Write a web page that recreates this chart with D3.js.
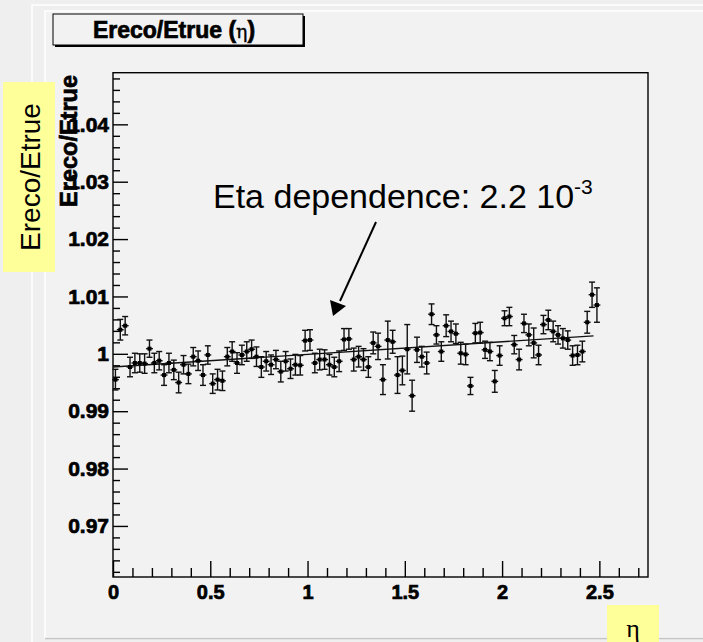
<!DOCTYPE html>
<html><head><meta charset="utf-8">
<script src="https://cdn.jsdelivr.net/npm/d3@7"></script>
<style>
html,body{margin:0;padding:0;background:#efefef;}
svg{display:block;font-family:"Liberation Sans",Arial,sans-serif;}
</style></head><body>
<svg id="chart" width="703" height="642"></svg>
<script>
// Histogram of Ereco/Etrue vs eta: 100 bins of width 0.025 between 0 and 2.5
const etaCenters = [
  0.0125,0.0375,0.0625,0.0875,0.1125,0.1375,0.1625,0.1875,0.2125,0.2375,
  0.2625,0.2875,0.3125,0.3375,0.3625,0.3875,0.4125,0.4375,0.4625,0.4875,
  0.5125,0.5375,0.5625,0.5875,0.6125,0.6375,0.6625,0.6875,0.7125,0.7375,
  0.7625,0.7875,0.8125,0.8375,0.8625,0.8875,0.9125,0.9375,0.9625,0.9875,
  1.0125,1.0375,1.0625,1.0875,1.1125,1.1375,1.1625,1.1875,1.2125,1.2375,
  1.2625,1.2875,1.3125,1.3375,1.3625,1.3875,1.4125,1.4375,1.4625,1.4875,
  1.5125,1.5375,1.5625,1.5875,1.6125,1.6375,1.6625,1.6875,1.7125,1.7375,
  1.7625,1.7875,1.8125,1.8375,1.8625,1.8875,1.9125,1.9375,1.9625,1.9875,
  2.0125,2.0375,2.0625,2.0875,2.1125,2.1375,2.1625,2.1875,2.2125,2.2375,
  2.2625,2.2875,2.3125,2.3375,2.3625,2.3875,2.4125,2.4375,2.4625,2.4875
];
const binHalfWidth = 0.0125;
const ratio = [
  0.9955,1.0042,1.0049,0.9977,0.9984,0.9984,0.9983,1.0009,0.9984,0.9988,
  0.9963,0.9984,0.9972,0.9950,0.9981,0.9965,0.9995,0.9988,0.9963,0.9998,
  0.9948,0.9955,0.9953,0.9995,1.0004,0.9984,0.9998,1.0004,1.0008,0.9995,
  0.9977,0.9987,0.9981,0.9990,0.9969,0.9987,0.9974,0.9981,0.9980,1.0023,
  1.0024,0.9984,0.9990,0.9990,0.9981,0.9977,0.9987,1.0025,1.0026,0.9990,
  0.9995,0.9990,0.9977,1.0019,1.0013,0.9955,1.0024,1.0021,0.9963,0.9971,
  1.0008,0.9927,1.0007,0.9995,0.9984,1.0069,1.0033,1.0004,1.0049,1.0039,
  1.0035,1.0001,0.9999,0.9944,1.0036,1.0037,1.0007,1.0004,0.9952,0.9997,
  1.0062,1.0065,1.0016,0.9990,1.0053,1.0033,1.0019,0.9998,1.0051,1.0059,
  1.0039,1.0033,1.0027,1.0024,0.9997,0.9998,1.0004,1.0055,1.0103,1.0085
];
const ratioErr = [
  0.0018,0.0018,0.0016,0.0017,0.0017,0.0016,0.0017,0.0015,0.0017,0.0016,
  0.0018,0.0017,0.0017,0.0018,0.0016,0.0017,0.0016,0.0017,0.0018,0.0016,
  0.0017,0.0018,0.0017,0.0016,0.0017,0.0018,0.0017,0.0017,0.0016,0.0017,
  0.0018,0.0017,0.0017,0.0016,0.0018,0.0017,0.0017,0.0018,0.0017,0.0018,
  0.0018,0.0017,0.0018,0.0017,0.0018,0.0017,0.0018,0.0019,0.0018,0.0020,
  0.0018,0.0019,0.0018,0.0019,0.0023,0.0026,0.0033,0.0020,0.0032,0.0025,
  0.0043,0.0027,0.0022,0.0018,0.0019,0.0018,0.0016,0.0017,0.0019,0.0018,
  0.0017,0.0019,0.0018,0.0015,0.0017,0.0018,0.0015,0.0016,0.0019,0.0017,
  0.0013,0.0016,0.0016,0.0018,0.0016,0.0019,0.0026,0.0017,0.0016,0.0017,
  0.0018,0.0016,0.0017,0.0016,0.0017,0.0017,0.0018,0.0019,0.0022,0.0030
];
// linear fit: Ereco/Etrue = p0 + p1 * eta
const fitP0 = 0.9977;
const fitP1 = 0.0022;
const fitRange = [0, 2.47];

const yMajor = [0.97, 0.98, 0.99, 1.00, 1.01, 1.02, 1.03, 1.04];
const yMajorLabels = ["0.97","0.98","0.99","1","1.01","1.02","1.03","1.04"];
const yMinor = [0.962,0.964,0.966,0.968,0.972,0.974,0.976,0.978,0.982,0.984,0.986,0.988,
  0.992,0.994,0.996,0.998,1.002,1.004,1.006,1.008,1.012,1.014,1.016,1.018,
  1.022,1.024,1.026,1.028,1.032,1.034,1.036,1.038,1.042,1.044,1.046,1.048];
const xMajor = [0, 0.5, 1, 1.5, 2, 2.5];
const xMajorLabels = ["0","0.5","1","1.5","2","2.5"];
const xMinor = [0.1,0.2,0.3,0.4,0.6,0.7,0.8,0.9,1.1,1.2,1.3,1.4,1.6,1.7,1.8,1.9,
  2.1,2.2,2.3,2.4,2.6,2.7];

const svg = d3.select("#chart");

// canvas / pad background with bevel highlights
svg.append("rect").attr("x",0).attr("y",0).attr("width",703).attr("height",642).attr("fill","#efefef");
svg.append("rect").attr("x",32).attr("y",5).attr("width",680).attr("height",640)
  .attr("fill","#efefef").attr("stroke","#ffffff").attr("stroke-width",1.5);
svg.append("rect").attr("x",45).attr("y",11).attr("width",680).attr("height",627)
  .attr("fill","#f2f2f2").attr("stroke","#ffffff").attr("stroke-width",1.5);
svg.append("line").attr("x1",45).attr("x2",703).attr("y1",638.5).attr("y2",638.5)
  .attr("stroke","#c4c4c4").attr("stroke-width",1.5);

const x = d3.scaleLinear().domain([0, 2.75]).range([113, 648]);
const y = d3.scaleLinear().domain([0.9611, 1.049]).range([577, 72.7]);

// frame
svg.append("rect").attr("x",x(0)).attr("y",y(1.049)).attr("width",x(2.75)-x(0))
  .attr("height",y(0.9611)-y(1.049)).attr("fill","none").attr("stroke","#000").attr("stroke-width",1.4);

const heavy = sel => sel.attr("font-weight","bold").attr("fill","#000")
  .attr("stroke","#000").attr("stroke-width",0.7)
  .attr("font-family","'Liberation Sans',Arial,sans-serif");

// y axis: ticks point into the frame
const yAxisMajor = d3.axisLeft(y).tickValues(yMajor)
  .tickFormat((d,i)=>yMajorLabels[i]).tickSize(-15).tickPadding(4);
const gy = svg.append("g").attr("transform",`translate(${x(0)},0)`).call(yAxisMajor);
gy.select(".domain").remove();
gy.selectAll("line").attr("stroke","#000").attr("stroke-width",1.4);
gy.selectAll("text").attr("font-size",21).call(heavy);
const gy2 = svg.append("g").attr("transform",`translate(${x(0)},0)`)
  .call(d3.axisLeft(y).tickValues(yMinor).tickFormat("").tickSize(-7));
gy2.select(".domain").remove();
gy2.selectAll("line").attr("stroke","#000").attr("stroke-width",1.4);

// x axis
const xAxisMajor = d3.axisBottom(x).tickValues(xMajor)
  .tickFormat((d,i)=>xMajorLabels[i]).tickSize(-16).tickPadding(8);
const gx = svg.append("g").attr("transform",`translate(0,${y(0.9611)})`).call(xAxisMajor);
gx.select(".domain").remove();
gx.selectAll("line").attr("stroke","#000").attr("stroke-width",1.4);
gx.selectAll("text").attr("font-size",20).call(heavy);
const gx2 = svg.append("g").attr("transform",`translate(0,${y(0.9611)})`)
  .call(d3.axisBottom(x).tickValues(xMinor).tickFormat("").tickSize(-9));
gx2.select(".domain").remove();
gx2.selectAll("line").attr("stroke","#000").attr("stroke-width",1.4);

// y axis title (drawn over the upper tick labels)
svg.append("text").attr("transform",`translate(77,75) rotate(-90)`)
  .attr("text-anchor","end").attr("font-size",23.5).call(heavy).text("Ereco/Etrue");

// fitted line
svg.append("line").attr("x1",x(fitRange[0])).attr("x2",x(fitRange[1]))
  .attr("y1",y(fitP0+fitP1*fitRange[0])).attr("y2",y(fitP0+fitP1*fitRange[1]))
  .attr("stroke","#111").attr("stroke-width",1.4);

// data points with error bars
const pts = etaCenters.map((e,i)=>({eta:e, v:ratio[i], err:ratioErr[i]}));
const gp = svg.append("g").attr("stroke","#111").attr("stroke-width",1.4);
pts.forEach(p=>{
  const cx = x(p.eta), cy = y(p.v), y1 = y(p.v+p.err), y2 = y(p.v-p.err);
  gp.append("line").attr("x1",cx).attr("x2",cx).attr("y1",y1).attr("y2",y2);
  gp.append("line").attr("x1",cx-3).attr("x2",cx+3).attr("y1",y1).attr("y2",y1);
  gp.append("line").attr("x1",cx-3).attr("x2",cx+3).attr("y1",y2).attr("y2",y2);
  gp.append("line").attr("x1",x(p.eta-binHalfWidth)-1).attr("x2",x(p.eta+binHalfWidth)+1).attr("y1",cy).attr("y2",cy);
  gp.append("rect").attr("x",cx-2).attr("y",cy-2).attr("width",4).attr("height",4).attr("fill","#000").attr("stroke","none");
});

// title box with shadow
svg.append("rect").attr("x",55).attr("y",16).attr("width",250).attr("height",31).attr("fill","#000");
svg.append("rect").attr("x",53).attr("y",14).attr("width",250).attr("height",31)
  .attr("fill","#f2f2f2").attr("stroke","#000").attr("stroke-width",1);
const tt = svg.append("text").attr("x",174).attr("y",38).attr("text-anchor","middle")
  .attr("font-size",23).call(heavy);
tt.append("tspan").text("Ereco/Etrue (");
tt.append("tspan").attr("font-weight","normal").attr("stroke-width",0.3)
  .attr("font-family","'DejaVu Serif',serif").attr("font-size",19).text("η");
tt.append("tspan").text(")");

// annotation with arrow
const ann = svg.append("text").attr("x",213).attr("y",208).attr("font-size",34).attr("fill","#000");
ann.append("tspan").text("Eta dependence: 2.2 10");
ann.append("tspan").attr("font-size",21).attr("dy",-14).text("-3");
svg.append("line").attr("x1",376).attr("y1",222).attr("x2",340).attr("y2",301)
  .attr("stroke","#000").attr("stroke-width",2);
svg.append("path").attr("d","M333,316 L330,300 L346,306 Z").attr("fill","#000");

// yellow axis-name boxes
svg.append("rect").attr("x",3).attr("y",82).attr("width",52).attr("height",190).attr("fill","#ffff99");
svg.append("text").attr("transform","translate(40,177) rotate(-90)").attr("text-anchor","middle")
  .attr("font-size",28).attr("fill","#000").text("Ereco/Etrue");
svg.append("rect").attr("x",607).attr("y",605).attr("width",52).attr("height",40).attr("fill","#ffff99");
svg.append("text").attr("x",633).attr("y",637).attr("text-anchor","middle")
  .attr("font-family","'Liberation Serif','DejaVu Serif',serif").attr("font-size",26).attr("fill","#000").text("η");
</script>
</body></html>
